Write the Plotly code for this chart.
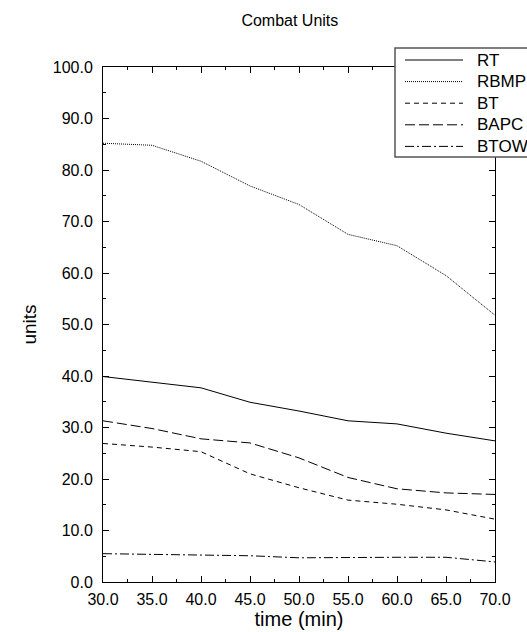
import plotly.graph_objects as go

time_min = [30, 35, 40, 45, 50, 55, 60, 65, 70]
series_names = ["RT", "RBMP", "BT", "BAPC", "BTOW"]
rt = [39.9, 38.8, 37.7, 34.9, 33.2, 31.3, 30.7, 28.9, 27.4]
rbmp = [85.2, 84.8, 81.7, 76.9, 73.3, 67.5, 65.3, 59.5, 51.8]
bt = [26.9, 26.2, 25.3, 21.0, 18.3, 15.9, 15.1, 14.0, 12.2]
bapc = [31.3, 29.8, 27.8, 27.0, 24.1, 20.3, 18.1, 17.3, 17.0]
btow = [5.5, 5.4, 5.3, 5.1, 4.7, 4.8, 4.8, 4.8, 3.9]
series_values = [rt, rbmp, bt, bapc, btow]
dashes = ["solid", "1px,1px", "5px,4px", "10px,4px", "9px,3px,2px,3px"]

W, H = 527, 632
L, R, T, B = 103, 32, 67, 50
FONT = "Liberation Sans, Arial, Helvetica, sans-serif"

fig = go.Figure()
for name, vals, d in zip(series_names, series_values, dashes):
    fig.add_trace(go.Scatter(x=time_min, y=vals, mode="lines", name=name,
                             line=dict(color="black", width=1, dash=d),
                             showlegend=False))

pw = W - L - R
ph = H - T - B
def px2x(px):
    return (px - L) / pw
def py2y(py):
    return (H - B - py) / ph

# legend box (manual, to mimic the original)
fig.add_shape(type="rect", xref="paper", yref="paper",
              x0=px2x(395), x1=px2x(540), y0=py2y(157), y1=py2y(48),
              line=dict(color="#555555", width=1.5), fillcolor="white", layer="above")
for i, (name, d) in enumerate(zip(series_names, dashes)):
    yc = 60 + i * 21.6
    fig.add_shape(type="line", xref="paper", yref="paper",
                  x0=px2x(405), x1=px2x(463), y0=py2y(yc), y1=py2y(yc),
                  line=dict(color="black", width=1, dash=d), layer="above")
    fig.add_annotation(xref="paper", yref="paper", x=px2x(475), y=py2y(yc),
                       text=name, showarrow=False, xanchor="left", yanchor="middle",
                       font=dict(family=FONT, size=17, color="black"))

axis_common = dict(showline=True, linecolor="black", linewidth=1, mirror="ticks",
                   ticks="inside", ticklen=6, tickcolor="black", tickwidth=1,
                   showgrid=False, zeroline=False, tickformat=".1f",
                   tickfont=dict(family=FONT, size=16, color="black"))

fig.update_layout(
    width=W, height=H,
    margin=dict(l=L, r=R, t=T, b=B, autoexpand=False),
    plot_bgcolor="white", paper_bgcolor="white",
    title=dict(text="Combat Units", x=0.55, xanchor="center", y=1 - 20 / H, yanchor="middle",
               font=dict(family=FONT, size=16, color="black")),
    xaxis=dict(range=[30, 70], dtick=5, tick0=30, ticklabelstandoff=3,
               minor=dict(dtick=2.5, ticks="inside", ticklen=3, tickcolor="black", showgrid=False),
               title=dict(text="time (min)", font=dict(family=FONT, size=20, color="black"), standoff=0),
               **axis_common),
    yaxis=dict(range=[0, 100], dtick=10, tick0=0, ticklabelstandoff=6,
               minor=dict(dtick=5, ticks="inside", ticklen=3, tickcolor="black", showgrid=False),
               title=dict(text="units", font=dict(family=FONT, size=19, color="black"), standoff=11),
               **axis_common),
)

fig.write_html("out.html")
